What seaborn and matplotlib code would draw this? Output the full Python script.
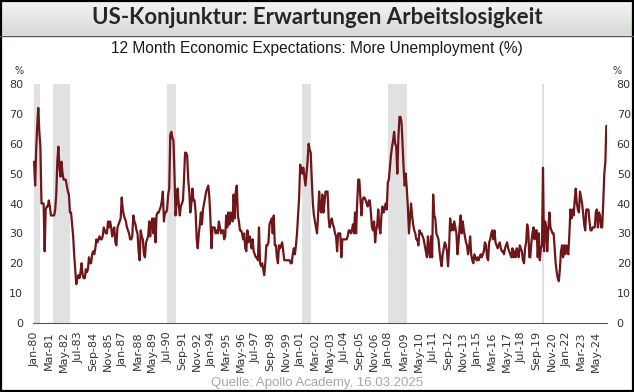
import numpy as np
import pandas as pd
import matplotlib
matplotlib.use('Agg')
import matplotlib.pyplot as plt
import seaborn as sns
from matplotlib import font_manager

# Monthly values (%), Jan 1980 - Mar 2025
y1980 = [54, 46, 58, 66, 72, 64, 59, 40, 40, 40, 24, 38]
y1981 = [39, 39, 41, 39, 36, 36, 36, 36, 38, 43, 54, 59]
y1982 = [52, 49, 54, 50, 48, 48, 48, 46, 44, 43, 37, 37]
y1983 = [33, 29, 23, 18, 13, 15, 16, 15, 17, 20, 16, 15]
y1984 = [15, 18, 17, 18, 22, 20, 20, 23, 24, 23, 25, 28]
y1985 = [27, 28, 29, 28, 28, 29, 32, 31, 30, 30, 34, 32]
y1986 = [34, 32, 29, 31, 32, 27, 26, 32, 33, 34, 35, 42]
y1987 = [38, 36, 35, 34, 32, 31, 30, 28, 28, 29, 36, 34]
y1988 = [33, 31, 30, 24, 21, 31, 29, 28, 23, 22, 27, 28]
y1989 = [29, 34, 29, 33, 35, 30, 35, 27, 36, 37, 37, 38]
y1990 = [39, 41, 44, 34, 37, 37, 38, 43, 45, 63, 64, 62]
y1991 = [61, 49, 36, 40, 45, 40, 36, 39, 40, 41, 48, 57]
y1992 = [57, 56, 48, 44, 37, 40, 45, 41, 41, 37, 28, 25]
y1993 = [30, 33, 37, 33, 38, 40, 42, 44, 45, 46, 42, 35]
y1994 = [25, 32, 32, 32, 30, 31, 30, 34, 32, 30, 31, 31]
y1995 = [28, 29, 36, 32, 37, 33, 37, 35, 34, 43, 35, 44]
y1996 = [46, 36, 34, 31, 31, 30, 28, 30, 25, 24, 31, 27]
y1997 = [29, 28, 25, 28, 24, 23, 22, 22, 21, 32, 20, 19]
y1998 = [20, 18, 16, 20, 26, 26, 27, 33, 34, 35, 30, 36]
y1999 = [26, 26, 22, 20, 26, 25, 26, 27, 24, 21, 21, 21]
y2000 = [21, 21, 21, 20, 20, 23, 25, 23, 26, 30, 36, 42]
y2001 = [53, 51, 50, 52, 49, 46, 50, 54, 60, 58, 57, 48]
y2002 = [40, 36, 34, 32, 30, 36, 44, 38, 37, 43, 37, 40]
y2003 = [44, 44, 44, 35, 32, 34, 35, 33, 32, 30, 29, 24]
y2004 = [30, 30, 30, 22, 28, 28, 28, 28, 28, 29, 31, 31]
y2005 = [30, 31, 33, 30, 37, 30, 40, 48, 48, 42, 36, 41]
y2006 = [42, 42, 41, 40, 39, 41, 41, 37, 32, 31, 34, 27]
y2007 = [31, 33, 38, 32, 30, 36, 39, 37, 38, 40, 38, 47]
y2008 = [48, 52, 56, 59, 61, 64, 60, 59, 50, 62, 69, 69]
y2009 = [67, 59, 52, 46, 50, 45, 39, 30, 35, 40, 36, 33]
y2010 = [31, 30, 28, 28, 26, 31, 30, 30, 29, 28, 26, 24]
y2011 = [22, 29, 24, 22, 29, 22, 43, 36, 35, 30, 29, 28]
y2012 = [24, 21, 19, 23, 25, 27, 26, 24, 19, 25, 35, 31]
y2013 = [33, 31, 34, 32, 30, 23, 27, 32, 36, 30, 34, 31]
y2014 = [29, 27, 26, 23, 25, 29, 23, 21, 20, 23, 22, 21]
y2015 = [22, 21, 22, 23, 22, 23, 24, 27, 26, 22, 21, 27]
y2016 = [28, 30, 31, 28, 31, 27, 26, 25, 26, 27, 25, 24]
y2017 = [24, 23, 25, 26, 27, 25, 24, 23, 22, 25, 22, 24]
y2018 = [22, 25, 24, 22, 26, 25, 24, 21, 20, 25, 27, 33]
y2019 = [31, 22, 22, 27, 30, 32, 28, 31, 31, 22, 30, 21]
y2020 = [25, 26, 52, 24, 34, 32, 24, 31, 37, 32, 31, 30]
y2021 = [30, 25, 20, 17, 15, 14, 18, 24, 26, 22, 26, 23]
y2022 = [26, 24, 23, 30, 38, 35, 38, 36, 41, 45, 40, 38]
y2023 = [37, 44, 42, 40, 37, 33, 31, 38, 38, 38, 34, 31]
y2024 = [31, 32, 32, 32, 37, 38, 32, 37, 36, 32, 32, 40]
y2025 = [50, 54, 66]

values = (y1980 + y1981 + y1982 + y1983 + y1984 + y1985 + y1986 + y1987 + y1988
          + y1989 + y1990 + y1991 + y1992 + y1993 + y1994 + y1995 + y1996 + y1997
          + y1998 + y1999 + y2000 + y2001 + y2002 + y2003 + y2004 + y2005 + y2006
          + y2007 + y2008 + y2009 + y2010 + y2011 + y2012 + y2013 + y2014 + y2015
          + y2016 + y2017 + y2018 + y2019 + y2020 + y2021 + y2022 + y2023 + y2024
          + y2025)
dates = pd.date_range('1980-01-01', periods=len(values), freq='MS')
df = pd.DataFrame({'date': dates, 'value': values})

# US recessions (shaded)
rec_start = ['1980-01-01', '1981-07-01', '1990-07-01', '2001-03-01', '2007-12-01', '2020-02-01']
rec_end = ['1980-07-01', '1982-11-01', '1991-03-01', '2001-11-01', '2009-06-01', '2020-04-01']

yticks = [0, 10, 20, 30, 40, 50, 60, 70, 80]

# narrow font if available
installed = {f.name for f in font_manager.fontManager.ttflist}
if 'Liberation Sans Narrow' in installed:
    narrow, sub_fs, src_fs = 'Liberation Sans Narrow', 13.5, 11.5
else:
    narrow, sub_fs, src_fs = 'Liberation Sans', 11.2, 9.5

sns.set_style('white')
fig = plt.figure(figsize=(6.34, 3.92), dpi=100)

# title band with gradient
band = fig.add_axes([0, 1 - 35 / 392, 1, 35 / 392])
grad = np.linspace(0, 1, 50).reshape(-1, 1)
band.imshow(grad, aspect='auto', cmap=matplotlib.colors.LinearSegmentedColormap.from_list(
    'g', ['#f4f5f4', '#d6dad6']), extent=[0, 1, 0, 1], origin='upper')
band.set_axis_off()
fig.text(0.5, 1 - 18 / 392, 'US-Konjunktur: Erwartungen Arbeitslosigkeit',
         ha='center', va='center', fontsize=16, fontweight='bold', family='Lato')
fig.add_artist(plt.Line2D([0, 1], [1 - 35.5 / 392] * 2, color='#555555', lw=1))

fig.text(0.5, 1 - 49 / 392, '12 Month Economic Expectations: More Unemployment (%)',
         ha='center', va='center', fontsize=sub_fs, color='#1a1a1a', family=narrow)

ax = fig.add_axes([33 / 634, 1 - 323 / 392, (607 - 33) / 634, (323 - 84) / 392])
for s, e in zip(rec_start, rec_end):
    ax.axvspan(pd.Timestamp(s), pd.Timestamp(e), color='#e1e1e1', lw=0, zorder=0)
sns.lineplot(data=df, x='date', y='value', ax=ax, color='#6e1619', lw=1.6, zorder=3)

ax.set_xlim(pd.Timestamp('1979-12-01'), pd.Timestamp('2025-03-20'))
ax.set_ylim(0, 80)
ax.set_yticks(yticks)
ax.tick_params(axis='y', labelleft=True, labelright=True, length=0, labelsize=8,
               labelcolor='#333333', pad=7)
xt = pd.date_range('1980-01-01', '2024-05-01', freq='14MS')
ax.set_xticks(xt)
ax.set_xticklabels([d.strftime('%b-%y') for d in xt], rotation=90, fontsize=8,
                   color='#333333')
ax.tick_params(axis='x', direction='out', length=4, width=0.8, color='#555555', pad=2)
for sp in ['left', 'right', 'top']:
    ax.spines[sp].set_visible(False)
ax.spines['bottom'].set_color('#555555')
ax.set_xlabel('')
ax.set_ylabel('')
ax.text(-0.025, 1.04, '%', transform=ax.transAxes, fontsize=7, color='#333333', ha='center')
ax.text(1.018, 1.04, '%', transform=ax.transAxes, fontsize=7, color='#333333', ha='center')

fig.text(0.5, 1 - 383 / 392, 'Quelle: Apollo Academy, 16.03.2025', ha='center', va='center',
         fontsize=src_fs, color='#a6a6a6', family=narrow)

# outer frame
fig.add_artist(plt.Rectangle((0.0015, 0.002), 0.997, 0.996, transform=fig.transFigure,
                             fill=False, lw=1.6, color='black'))

fig.savefig('out.png', dpi=100)
